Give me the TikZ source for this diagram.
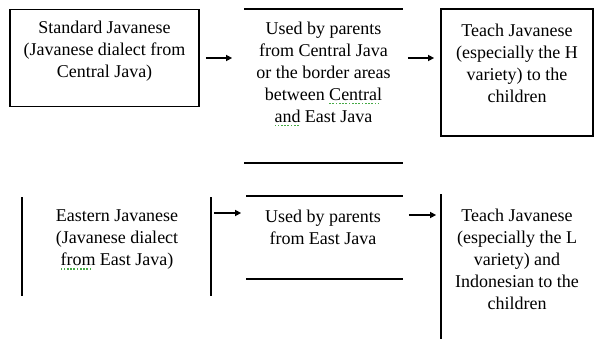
\documentclass[tikz,border=0pt]{standalone}
\usepackage{fontspec}
\setmainfont{Liberation Serif}
\usetikzlibrary{arrows.meta}
\definecolor{spell}{RGB}{70,170,70}
\newcommand\spellmark[1]{\setbox0\hbox{#1}\rlap{\color{spell}\raisebox{-0.22em}{\hbox to \wd0{\leaders\hbox{\rule{0.09em}{0.09em}\kern0.09em}\hfill}}}#1}
\begin{document}
\begin{tikzpicture}[x=1pt,y=-1pt,
  lbl/.style={font=\fontsize{18}{22}\selectfont, align=center, inner sep=0pt},
  boxshape/.style={rectangle, inner sep=0pt, line width=1.8pt},
  edge/.style={line width=1.8pt},
  arr/.style={line width=1.5pt, -{Triangle[length=6pt,width=6pt]}}]
\useasboundingbox (0,0) rectangle (594,339);
% upper row
\node[boxshape, draw, minimum width=189pt, minimum height=97pt] (b1) at (104.5,58) {};
\node[boxshape, minimum width=157pt, minimum height=152pt] (b2) at (323.5,86) {};
\node[boxshape, draw, minimum width=152pt, minimum height=127pt] (b3) at (517,72.5) {};
\draw[edge] (b2.north west) -- (b2.north east);
\draw[edge] (b2.south west) -- (b2.south east);
\node[lbl] (t1) at (104.5,51) {Standard Javanese\\(Javanese dialect from\\Central Java)};
\node[lbl] (t2) at (323.5,74) {Used by parents\\from Central Java\\or the border areas\\between \spellmark{Central}\\\spellmark{and} East Java};
\node[lbl] (t3) at (517,63) {Teach Javanese\\(especially the H\\variety) to the\\children};
\coordinate (r1) at (0,58);
\draw[arr] ([xshift=6pt]b1.east |- r1) -- ([xshift=-12pt]b2.west |- r1);
\draw[arr] ([xshift=5pt]b2.east |- r1) -- ([xshift=-6pt]b3.west |- r1);
% lower row
\node[boxshape, minimum width=187pt, minimum height=97pt] (b4) at (116.5,246.5) {};
\node[boxshape, minimum width=155pt, minimum height=81pt] (b5) at (324.5,237.5) {};
\node[boxshape, minimum width=152pt, minimum height=143pt] (b6) at (518,266.5) {};
\draw[edge] (b4.north west) -- (b4.south west);
\draw[edge] (b4.north east) -- (b4.south east);
\draw[edge] (b5.north west) -- (b5.north east);
\draw[edge] (b5.south west) -- (b5.south east);
\draw[edge] (b6.north west) -- (b6.south west);
\node[lbl] (t4) at (117,240) {Eastern Javanese\\(Javanese dialect\\\spellmark{from} East Java)};
\node[lbl] (t5) at (323,227.5) {Used by parents\\from East Java};
\node[lbl] (t6) at (517,259) {Teach Javanese\\(especially the L\\variety) and\\Indonesian to the\\children};
\coordinate (r2) at (0,213);
\coordinate (r3) at (0,215);
\draw[arr] ([xshift=3pt]b4.east |- r2) -- ([xshift=-5pt]b5.west |- r2);
\draw[arr] ([xshift=6pt]b5.east |- r3) -- ([xshift=-5pt]b6.west |- r3);
\end{tikzpicture}
\end{document}
